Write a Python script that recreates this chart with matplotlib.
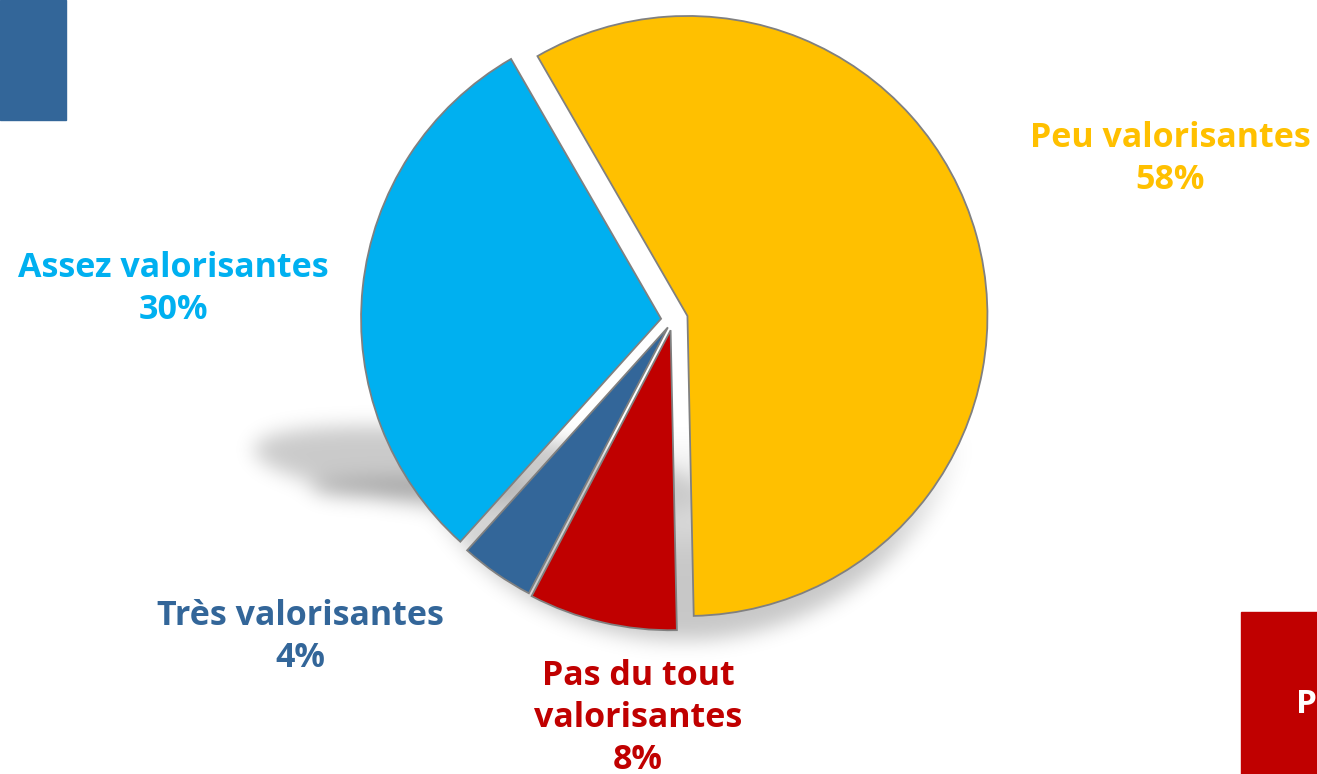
import numpy as np
import matplotlib.pyplot as plt
from matplotlib.patches import Rectangle

# data (clockwise from the top)
labels = ['Peu valorisantes', 'Pas du tout\nvalorisantes', 'Très valorisantes', 'Assez valorisantes']
shares = [58, 8, 4, 30]
colors = ['#FFC000', '#C00000', '#336699', '#00B0F0']
explode = [0.05, 0.035, 0.03, 0.04]

# label placement (pixels, first baseline)
label_x = [1170, 638, 300, 173]
label_y = [147, 685, 625, 277]

W, H = 1317, 774
FONT = 'Open Sans'


def blur(a, s):
    k = np.exp(-0.5 * (np.arange(-3 * s, 3 * s + 1) / s) ** 2)
    k /= k.sum()
    a = np.apply_along_axis(lambda m: np.convolve(m, k, mode='same'), 0, a)
    a = np.apply_along_axis(lambda m: np.convolve(m, k, mode='same'), 1, a)
    return a


fig = plt.figure(figsize=(W / 100, H / 100), dpi=100)
bg = fig.add_axes([0, 0, 1, 1])

# soft drop shadow under the pie
yy, xx = np.mgrid[0:H, 0:W].astype(float)
ang = np.deg2rad(6)
dx, dy = xx - 480, yy - 472
u = dx * np.cos(ang) + dy * np.sin(ang)
v = -dx * np.sin(ang) + dy * np.cos(ang)
sh_a = ((u / 228) ** 2 + (v / 40) ** 2 <= 1) * 0.21
sh_s = (((xx - 420) / 110) ** 2 + ((yy - 487) / 10) ** 2 <= 1) * 0.36
ramp = np.clip((yy - 430) / 130, 0, 1)
sh_b = ((xx - 682) ** 2 + (yy - 340) ** 2 <= 300 ** 2) * 0.22 * ramp
alpha = blur(np.maximum(np.maximum(sh_a, sh_b), sh_s), 10)
rgba = np.zeros((H, W, 4))
rgba[..., 3] = alpha
bg.imshow(rgba, extent=(0, W, H, 0), interpolation='bilinear', zorder=0)

# decorative corner blocks
bg.add_patch(Rectangle((0, 0), 66, 120, color='#336699', zorder=1))
bg.add_patch(Rectangle((1241, 612), 80, 170, color='#C00000', zorder=1))
bg.text(1296, 713, 'P', color='white', fontsize=24, fontweight='bold',
        family=FONT, ha='left', va='baseline', zorder=2)

bg.set_xlim(0, W)
bg.set_ylim(H, 0)
bg.axis('off')

# pie
cx, cy, r = 673, 320, 300
lim = 1.2
side = 2 * r * lim
pax = fig.add_axes([(cx - side / 2) / W, (H - cy - side / 2) / H, side / W, side / H])
pax.patch.set_alpha(0)
pax.pie(shares, colors=colors, explode=explode, startangle=120, counterclock=False,
        radius=1, wedgeprops=dict(edgecolor='#808080', linewidth=1.3))
pax.set_xlim(-lim, lim)
pax.set_ylim(-lim, lim)
pax.axis('off')

# labels
for lab, val, col, x, y in zip(labels, shares, colors, label_x, label_y):
    lines = lab.split('\n') + ['%d%%' % val]
    for i, line in enumerate(lines):
        bg.text(x, y + 42 * i, line, color=col, fontsize=24.5, fontweight='bold',
                family=FONT, ha='center', va='baseline', zorder=3)

fig.savefig('out.png', dpi=100)
